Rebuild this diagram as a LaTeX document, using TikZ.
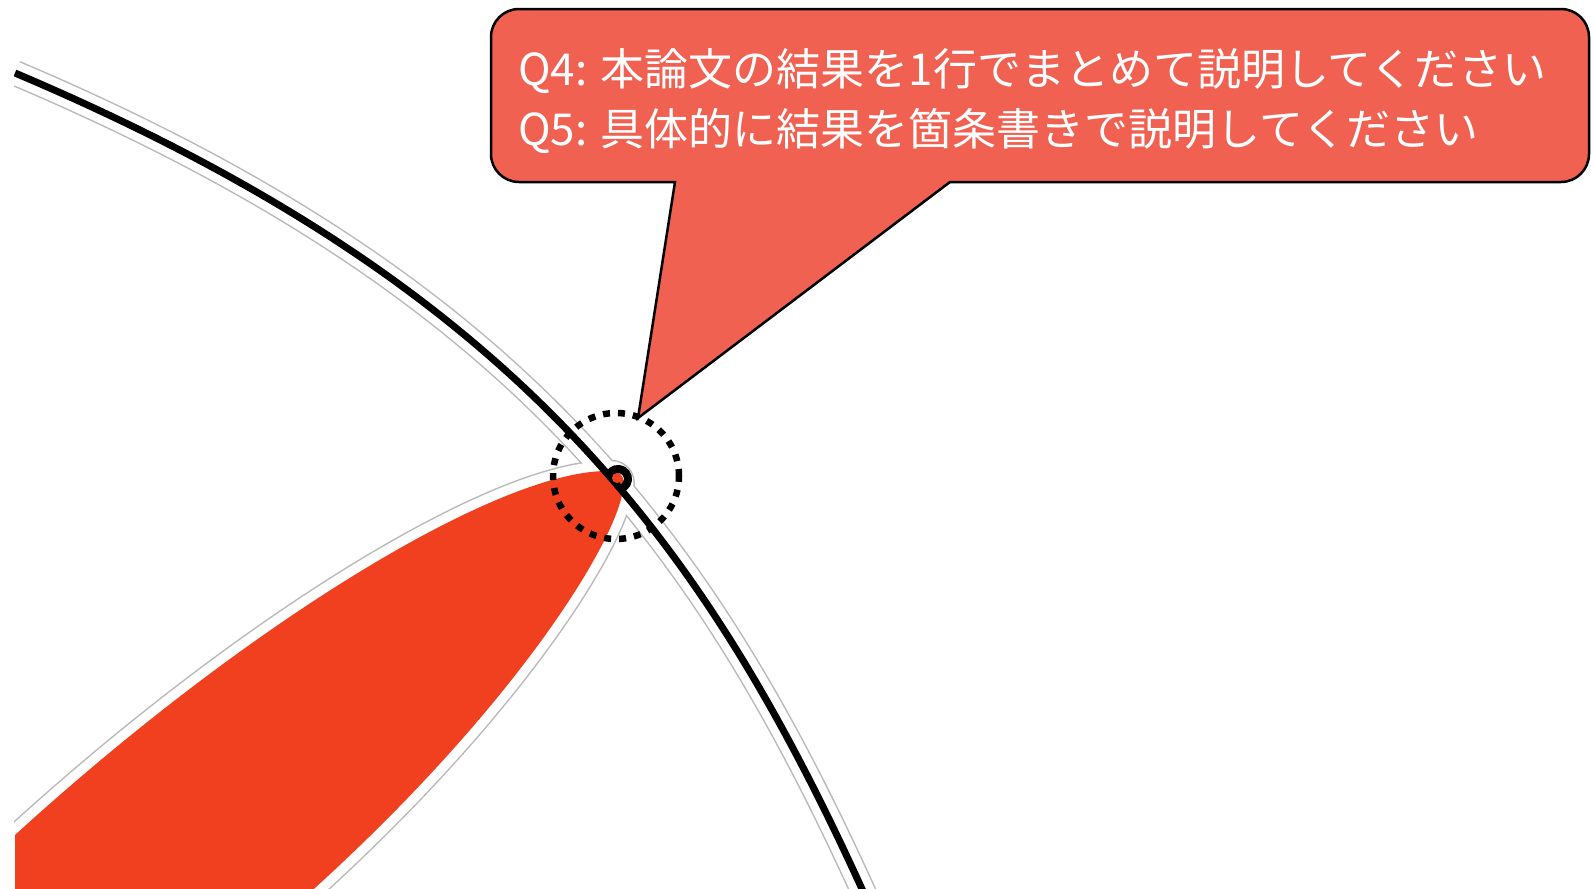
\documentclass[tikz,border=0pt]{standalone}
\usepackage{fontspec}
\newfontfamily\jpfont{Noto Sans CJK JP}
\definecolor{boxred}{RGB}{241,97,82}
\definecolor{spikered}{RGB}{240,64,32}
\definecolor{halo}{RGB}{185,185,185}
\begin{document}
\begin{tikzpicture}[x=1pt,y=-1pt,
  qtext/.style={anchor=base west, text=white, inner sep=0pt, font=\jpfont\fontsize{44}{52}\selectfont},
]
\useasboundingbox (0,0) rectangle (1591,889);
\def\curvepath{(15,73) .. controls (511.8,283.6) and (700.2,534.1) .. (862,889) -- (867,900)}
\def\spikepath{(15,905) -- (15,835) .. controls (245,625) and (495,472) .. (606,471)
  .. controls (618,469) and (627,476) .. (623,490)
  .. controls (615,545) and (510,715) .. (296,905) -- cycle}
\begin{scope}
  \clip (14,0) rectangle (1591,889);
  % grey halos
  \draw[halo, line width=26pt] \curvepath;
  \draw[halo, line width=22pt, line join=round] \spikepath;
  \draw[white, line width=23pt] \curvepath;
  \draw[white, line width=19pt, line join=round] \spikepath;
  % red spike
  \fill[spikered] \spikepath;
  % black curve
  \draw[black, line width=7pt] \curvepath;
  % knob round the tip
  \draw[black, line width=8pt] (618,479) ++(150:10pt) arc[start angle=150, end angle=-75, radius=10pt];
  \fill[spikered] (617,478) circle[radius=5pt];
\end{scope}
% dotted circle
\draw[line width=6.5pt, dash pattern=on 7pt off 8pt] (616,476) circle[radius=63pt];
% callout
\draw[fill=boxred, line width=2.5pt, line join=miter]
  (600,182) [rounded corners=28pt] -- (491,182) -- (491,9) -- (1589,9) -- (1589,182) -- (1000,182)
  [sharp corners] -- (950,182) -- (638,418) -- (675,182) -- cycle;
\node[qtext] (q4) at (518,85) {Q4: 本論文の結果を1行でまとめて説明してください};
\node[qtext] (q5) at (518,145) {Q5: 具体的に結果を箇条書きで説明してください};
\end{tikzpicture}
\end{document}
